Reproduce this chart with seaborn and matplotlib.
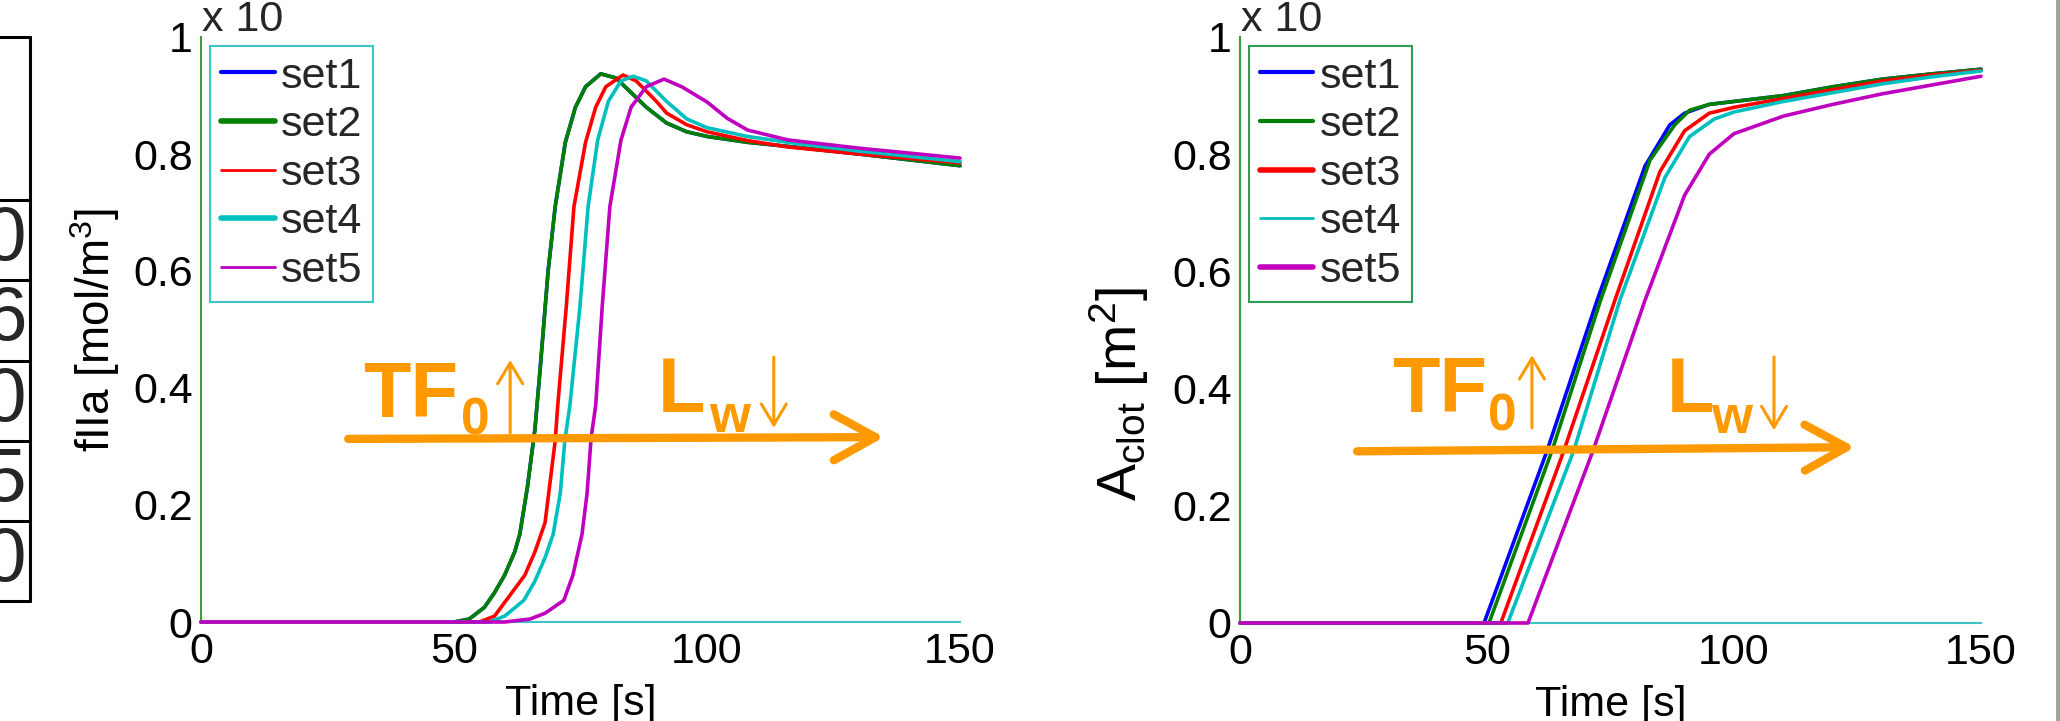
import pandas as pd
import matplotlib.pyplot as plt
import seaborn as sns
from matplotlib.lines import Line2D

# ---- data (time in s) ----
set_names = ['set1', 'set2', 'set3', 'set4', 'set5']
set_colors = ['#0000ff', '#008000', '#ff0000', '#00bfbf', '#bf00bf']

# left panel: fIIa [mol/m^3] (x 10^-n)
fiia_t_set1 = [0, 50, 53, 56, 58, 60, 62, 63, 64.5, 66, 67, 68.6, 70, 72, 74, 76, 79, 82, 85, 88, 92, 96, 100, 108, 116, 130, 150]
fiia_set1 = [0, 0, 0.005, 0.025, 0.05, 0.08, 0.12, 0.15, 0.23, 0.33, 0.43, 0.6, 0.71, 0.82, 0.88, 0.915, 0.937, 0.93, 0.905, 0.88, 0.853, 0.838, 0.83, 0.82, 0.813, 0.8, 0.78]
fiia_t_set2 = [0, 50, 53, 56, 58, 60, 62, 63, 64.5, 66, 67, 68.6, 70, 72, 74, 76, 79, 82, 85, 88, 92, 96, 100, 108, 116, 130, 150]
fiia_set2 = [0, 0, 0.005, 0.025, 0.05, 0.08, 0.12, 0.15, 0.23, 0.33, 0.43, 0.6, 0.71, 0.82, 0.88, 0.915, 0.937, 0.93, 0.905, 0.88, 0.853, 0.838, 0.83, 0.82, 0.813, 0.8, 0.78]
fiia_t_set3 = [0, 55, 58, 61, 64, 66, 68, 69, 70, 70.5, 72.2, 73.7, 76, 78, 80, 83.4, 86, 90, 92, 96, 100, 108, 116, 130, 150]
fiia_set3 = [0, 0, 0.01, 0.045, 0.08, 0.12, 0.17, 0.24, 0.31, 0.37, 0.54, 0.71, 0.82, 0.88, 0.915, 0.935, 0.925, 0.89, 0.87, 0.85, 0.838, 0.823, 0.812, 0.8, 0.785]
fiia_t_set4 = [0, 57, 60, 63.8, 66, 68, 69.6, 71, 71.9, 72.9, 74.9, 76.5, 78.4, 80.5, 83, 85.4, 88, 92, 96, 100, 108, 116, 130, 150]
fiia_set4 = [0, 0, 0.01, 0.037, 0.07, 0.11, 0.15, 0.22, 0.31, 0.37, 0.54, 0.71, 0.824, 0.89, 0.925, 0.933, 0.925, 0.89, 0.86, 0.845, 0.83, 0.82, 0.805, 0.787]
fiia_t_set5 = [0, 60, 65, 68, 71.7, 73.5, 75.3, 76.3, 77.1, 78, 79.3, 80.8, 83, 85, 88, 91.5, 95, 100, 104, 108, 116, 130, 150]
fiia_set5 = [0, 0, 0.005, 0.015, 0.037, 0.08, 0.15, 0.22, 0.315, 0.37, 0.54, 0.71, 0.824, 0.88, 0.915, 0.928, 0.915, 0.889, 0.861, 0.841, 0.824, 0.81, 0.793]

# right panel: A_clot [m^2] (x 10^-n)
aclot_t_set1 = [0, 49.4, 62.2, 72.3, 82, 87, 90, 95, 100, 110, 120, 130, 140, 150]
aclot_set1 = [0, 0, 0.295, 0.551, 0.78, 0.85, 0.87, 0.885, 0.89, 0.9, 0.915, 0.928, 0.937, 0.945]
aclot_t_set2 = [0, 50.4, 63.2, 73, 83, 88, 91, 95, 100, 110, 120, 130, 140, 150]
aclot_set2 = [0, 0, 0.295, 0.551, 0.79, 0.85, 0.875, 0.885, 0.89, 0.9, 0.915, 0.928, 0.937, 0.945]
aclot_t_set3 = [0, 52.8, 65.6, 75.9, 85, 90, 95, 100, 110, 120, 130, 140, 150]
aclot_set3 = [0, 0, 0.295, 0.551, 0.77, 0.84, 0.87, 0.88, 0.895, 0.91, 0.925, 0.935, 0.943]
aclot_t_set4 = [0, 54.2, 67.6, 76.9, 86, 91, 96, 100, 110, 120, 130, 140, 150]
aclot_set4 = [0, 0, 0.295, 0.551, 0.76, 0.83, 0.86, 0.872, 0.89, 0.905, 0.92, 0.932, 0.942]
aclot_t_set5 = [0, 58.3, 71.5, 82, 90, 95, 100, 105, 110, 120, 130, 140, 150]
aclot_set5 = [0, 0, 0.295, 0.551, 0.73, 0.8, 0.835, 0.85, 0.865, 0.885, 0.903, 0.918, 0.933]

x_ticks = [0, 50, 100, 150]
y_ticks = [0, 0.2, 0.4, 0.6, 0.8, 1]
y_tick_labels = ['0', '0.2', '0.4', '0.6', '0.8', '1']
table_chars = ['0', '6', '0', '5', '0']

ORANGE = '#ff9900'
W, H = 2060, 721


def long_frame(times, values):
    parts = [pd.DataFrame({'time': t, 'value': v, 'set': n})
             for t, v, n in zip(times, values, set_names)]
    return pd.concat(parts, ignore_index=True)


def px(x, y):
    # pixel position (from top left) -> figure fraction
    return x / W, 1 - y / H


sns.set_theme(style='white')
plt.rcParams['font.family'] = ['Liberation Sans', 'DejaVu Sans']
plt.rcParams['mathtext.fontset'] = 'custom'
plt.rcParams['mathtext.rm'] = 'Liberation Sans'
plt.rcParams['mathtext.it'] = 'Liberation Sans:italic'
plt.rcParams['mathtext.bf'] = 'Liberation Sans:bold'

fig = plt.figure(figsize=(W / 100, H / 100), dpi=100)
ax1 = fig.add_axes([201 / W, 1 - 622 / H, 759 / W, 585 / H])
ax2 = fig.add_axes([1240 / W, 1 - 623 / H, 741 / W, 586 / H])

df_fiia = long_frame([fiia_t_set1, fiia_t_set2, fiia_t_set3, fiia_t_set4, fiia_t_set5],
                     [fiia_set1, fiia_set2, fiia_set3, fiia_set4, fiia_set5])
df_aclot = long_frame([aclot_t_set1, aclot_t_set2, aclot_t_set3, aclot_t_set4, aclot_t_set5],
                      [aclot_set1, aclot_set2, aclot_set3, aclot_set4, aclot_set5])

for ax, df in ((ax1, df_fiia), (ax2, df_aclot)):
    sns.lineplot(data=df, x='time', y='value', hue='set', palette=set_colors,
                 estimator=None, sort=False, linewidth=2.6, ax=ax)
    for ln in ax.lines:
        ln.set_clip_on(False)
        ln.set_zorder(3)
    ax.set_xlim(0, 150)
    ax.set_ylim(0, 1)
    ax.set_xticks(x_ticks)
    ax.set_xticklabels([str(v) for v in x_ticks])
    ax.set_yticks(y_ticks)
    ax.set_yticklabels(y_tick_labels)
    sns.despine(ax=ax)
    ax.spines['left'].set_color('#3a9e3a')
    ax.spines['bottom'].set_color('#3cc4c4')
    for s in ('left', 'bottom'):
        ax.spines[s].set_linewidth(1.5)
        ax.spines[s].set_zorder(2)
    ax.tick_params(axis='both', direction='in', length=6, width=1.3,
                   labelsize=31, labelcolor='black')
    ax.tick_params(axis='y', pad=6, color='#3a9e3a')
    ax.tick_params(axis='x', pad=7, color='#3cc4c4')
    ax.set_xlabel('Time [s]', fontsize=31, labelpad=9, color='black')


def style_legend(ax, edge, widths):
    old = ax.get_legend()
    handles = old.legend_handles
    labels = [t.get_text() for t in old.get_texts()]
    old.remove()
    leg = ax.legend(handles, labels, loc='upper left', bbox_to_anchor=(0.012, 0.985),
                    borderaxespad=0, frameon=True, fancybox=False, framealpha=1,
                    edgecolor=edge, fontsize=31, handlelength=1.25,
                    handletextpad=0.15, labelspacing=0.2, borderpad=0.25)
    leg.get_frame().set_linewidth(1.5)
    for line, w in zip(leg.get_lines(), widths):
        line.set_linewidth(w)


style_legend(ax1, '#3cc8c8', [3, 4, 2, 4, 2])
style_legend(ax2, '#2ea055', [3, 3, 4, 2, 4])

ax1.set_ylabel('fIIa [mol/m$^3$]', fontsize=33, color='black')
ax1.yaxis.set_label_coords(-0.104, 0.5)
ax2.set_ylabel('A$_{\\mathrm{clot}}$ [m$^2$]', fontsize=40, color='black')
ax2.yaxis.set_label_coords(-0.12, 0.39)

# exponent labels above the y axes (cut by the figure top)
for x0 in (202, 1241):
    fig.text(*px(x0, 31), 'x 10', fontsize=31, ha='left', va='baseline')
    fig.text(*px(x0 + 100, 3), '-4', fontsize=22, ha='left', va='bottom')


def thin_arrow(ax, x, y_from, y_to):
    ax.annotate('', xy=(x, y_to), xytext=(x, y_from),
                arrowprops=dict(arrowstyle='->,head_length=0.5,head_width=0.3',
                                lw=2.2, color=ORANGE, mutation_scale=30,
                                shrinkA=0, shrinkB=0))


def trend_note(ax, arrow_from, arrow_to, tf_xy, sub0_xy, up, l_xy, w_xy, down):
    ax.annotate('', xy=arrow_to, xytext=arrow_from,
                arrowprops=dict(arrowstyle='->,head_length=1.0,head_width=0.55',
                                lw=6, color=ORANGE, mutation_scale=30,
                                shrinkA=0, shrinkB=0, capstyle='round',
                                joinstyle='round'))
    ax.text(*tf_xy, 'TF', fontsize=56, fontweight='bold', color=ORANGE, va='baseline')
    ax.text(*sub0_xy, '0', fontsize=37, fontweight='bold', color=ORANGE, va='baseline')
    thin_arrow(ax, *up)
    ax.text(*l_xy, 'L', fontsize=56, fontweight='bold', color=ORANGE, va='baseline')
    ax.text(*w_xy, 'w', fontsize=38, fontweight='bold', color=ORANGE, va='baseline')
    thin_arrow(ax, *down)


trend_note(ax1, (29.1, 0.313), (135, 0.316), (32.0, 0.350), (51.4, 0.32),
           (61.1, 0.323, 0.448), (90.3, 0.359), (100.4, 0.325), (113.2, 0.453, 0.332))
trend_note(ax2, (23.7, 0.293), (124.5, 0.30), (30.8, 0.36), (50.3, 0.329),
           (59.1, 0.333, 0.457), (86.4, 0.36), (95.3, 0.324), (108.1, 0.454, 0.329))

# fragment of a neighbouring table at the left edge
rows = [37, 200, 280, 361, 441, 521, 601]
for y in rows:
    fig.add_artist(Line2D([0, 30 / W], [1 - y / H] * 2, color='black', lw=2.2))
fig.add_artist(Line2D([30 / W] * 2, [1 - 37 / H, 1 - 601 / H], color='black', lw=2.2))
for ch, y0, y1 in zip(table_chars, rows[1:-1], rows[2:]):
    fig.text(*px(5, (y0 + y1) / 2), ch, fontsize=55, ha='center', va='center')

# grey border at the right edge
fig.add_artist(Line2D([2057.5 / W] * 2, [0, 1], color='#a0a0a0', lw=3.5))

fig.savefig('out.png', dpi=100)
